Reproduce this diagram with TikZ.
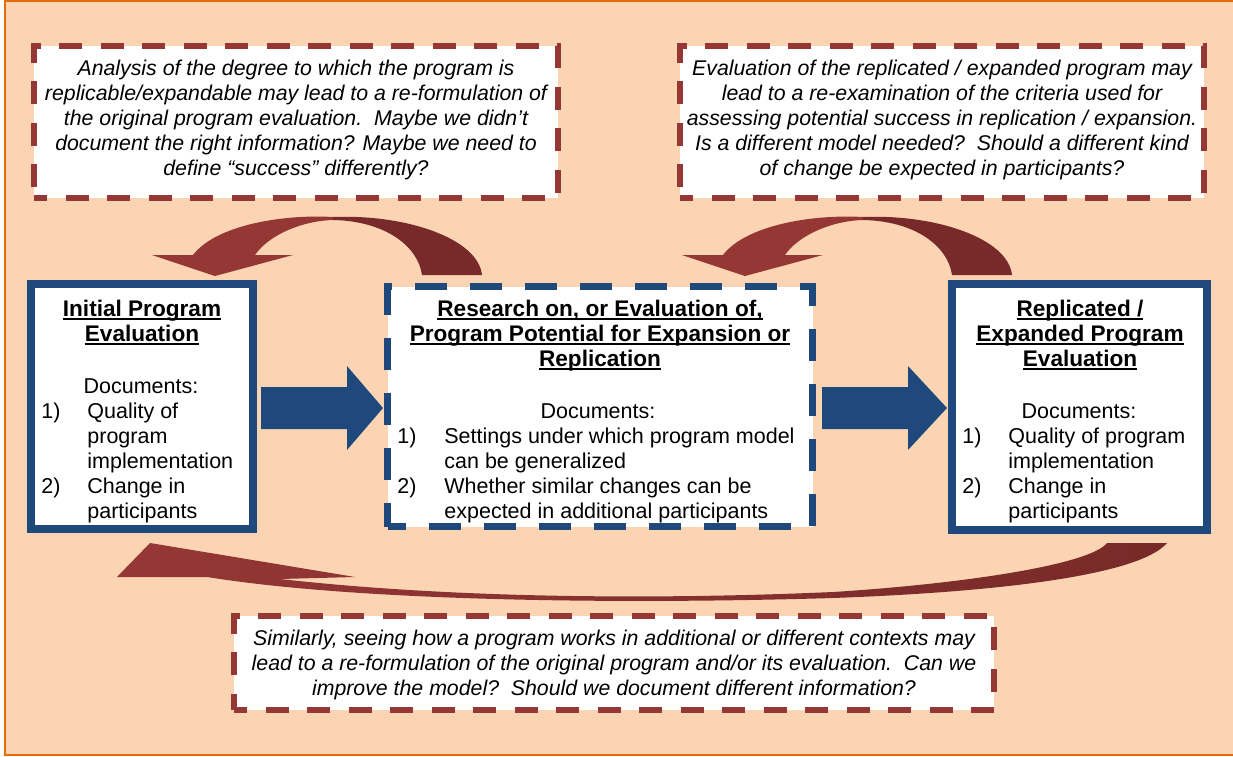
\documentclass[tikz,border=0pt]{standalone}
\usepackage{fontspec}
\setmainfont{Liberation Sans}
\definecolor{peach}{HTML}{FBD4B4}
\definecolor{orangeline}{HTML}{E46C0A}
\definecolor{boxblue}{HTML}{1F497D}
\definecolor{redL}{HTML}{953735}
\definecolor{redD}{HTML}{772A29}
\newcommand\myul[1]{\smash{\setbox0\hbox{#1}\rlap{\rule[-1.9pt]{\wd0}{0.75pt}}\box0}}
\begin{document}
\begin{tikzpicture}[x=0.5pt,y=-0.5pt,
  notebox/.style={draw=redL, fill=white, line width=3pt, dash pattern=on 11.5pt off 9.25pt, dash phase=5pt, inner sep=0pt},
  bluebox/.style={draw=boxblue, fill=white, line width=3.75pt, inner sep=0pt},
  blueboxdash/.style={draw=boxblue, fill=white, line width=3.5pt, dash pattern=on 16pt off 11.5pt, dash phase=7pt, inner sep=0pt},
  notetext/.style={anchor=base, inner sep=0pt, font=\fontsize{10.65}{12.5}\selectfont\itshape},
  ttltext/.style={anchor=base, inner sep=0pt, font=\fontsize{11.3}{12.5}\selectfont\bfseries},
  doctext/.style={anchor=base, inner sep=0pt, font=\fontsize{10.75}{12.5}\selectfont},
  listtext/.style={anchor=base west, inner sep=0pt, font=\fontsize{10.75}{12.5}\selectfont},
  blockarrow/.style={fill=boxblue}
]
\useasboundingbox (0,0) rectangle (1233,756);
\fill[white] (0,0) rectangle (1233,756);
\fill[peach] (5,0) rectangle (1233,755);
\draw[orangeline, line width=1pt] (1233,0.5) -- (5,0.5) -- (5,754.5) -- (1233,754.5);

% note boxes
\node[notebox, minimum width=262pt, minimum height=76pt] (nl) at (296,122) {};
\node[notebox, minimum width=262pt, minimum height=76pt] (nr) at (942,122) {};
\node[notebox, minimum width=380pt, minimum height=47pt] (nb) at (614,663) {};

\node[notetext] (nlt) at (296,75) {\begin{tabular}[t]{@{}c@{}}
Analysis of the degree to which the program is\\
replicable/expandable may lead to a re-formulation of\\
the original program evaluation.\ \ Maybe we didn’t\\
document the right information? Maybe we need to\\
define “success” differently?
\end{tabular}};
\node[notetext] (nrt) at (942,75) {\begin{tabular}[t]{@{}c@{}}
Evaluation of the replicated / expanded program may\\
lead to a re-examination of the criteria used for\\
assessing potential success in replication / expansion.\\
Is a different model needed?\ \ Should a different kind\\
of change be expected in participants?
\end{tabular}};
\node[notetext] (nbt) at (614,645) {\begin{tabular}[t]{@{}c@{}}
Similarly, seeing how a program works in additional or different contexts may\\
lead to a re-formulation of the original program and/or its evaluation.\ \ Can we\\
improve the model?\ \ Should we document different information?
\end{tabular}};

% main boxes
\node[bluebox, minimum width=111pt, minimum height=122.5pt] (b1) at (142,406.5) {};
\node[blueboxdash, minimum width=212.5pt, minimum height=120pt] (b2) at (600,406.5) {};
\node[bluebox, minimum width=127.5pt, minimum height=123pt] (b3) at (1079.5,407) {};

\node[ttltext] (t1) at (142,316) {\begin{tabular}[t]{@{}c@{}}
\myul{Initial Program}\\ \myul{Evaluation}\end{tabular}};
\node[ttltext] (t2) at (600,316) {\begin{tabular}[t]{@{}c@{}}
\myul{Research on, or Evaluation of,}\\ \myul{Program Potential for Expansion or}\\ \myul{Replication}\end{tabular}};
\node[ttltext] (t3) at (1080,316) {\begin{tabular}[t]{@{}c@{}}
\myul{Replicated /}\\ \myul{Expanded Program}\\ \myul{Evaluation}\end{tabular}};

\node[doctext] (d1) at (141,393) {Documents:};
\node[doctext] (d2) at (598,418) {Documents:};
\node[doctext] (d3) at (1079,418) {Documents:};

\node[listtext] (l1) at (41,418) {\begin{tabular}[t]{@{}p{23pt}@{}l@{}}
1) & Quality of\\ & program\\ & implementation\\ 2) & Change in\\ & participants\end{tabular}};
\node[listtext] (l2) at (397,443) {\begin{tabular}[t]{@{}p{23.5pt}@{}l@{}}
1) & Settings under which program model\\ & can be generalized\\ 2) & Whether similar changes can be\\ & expected in additional participants\end{tabular}};
\node[listtext] (l3) at (962,443) {\begin{tabular}[t]{@{}p{23pt}@{}l@{}}
1) & Quality of program\\ & implementation\\ 2) & Change in\\ & participants\end{tabular}};

% blue block arrows
\fill[blockarrow] (261,387) -- (347,387) -- (347,366) -- (383,408) -- (347,450) -- (347,429) -- (261,429) -- cycle;
\fill[blockarrow] (822,387) -- (908,387) -- (908,366) -- (947,408) -- (908,450) -- (908,429) -- (822,429) -- cycle;

% curved red arrows (top)
\foreach \dx in {0, 530}{
\begin{scope}[shift={(\dx,0)}]
\fill[redL] (193,255) .. controls (215,226) and (280,214) .. (333,217) -- (333,220)
   .. controls (300,221) and (268,236) .. (255,255) -- (293,255) -- (215,276) -- (152,255) -- cycle;
\fill[redD] (333,217) .. controls (405,214) and (478,238) .. (482,275) -- (422,275)
   .. controls (418,246) and (385,221) .. (333,220) -- cycle;
\end{scope}}

% bottom curved arrow
\shade[left color=redL, right color=redD] (117,577) -- (150,543) -- (355,577) -- (280,579)
  .. controls (450,598) and (650,600) .. (833,592)
  .. controls (960,584) and (1090,565) .. (1107,543) -- (1167,543)
  .. controls (1140,575) and (1000,592) .. (833,598)
  .. controls (600,605) and (350,600) .. (207,577) -- cycle;
\end{tikzpicture}
\end{document}
